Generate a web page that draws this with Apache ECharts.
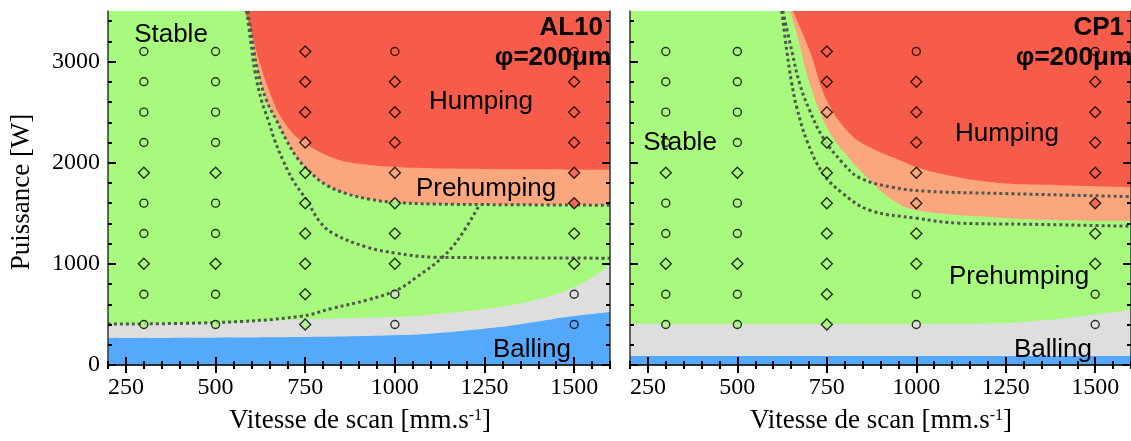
<!DOCTYPE html>
<html><head><meta charset="utf-8">
<script src="https://cdn.jsdelivr.net/npm/echarts@6/dist/echarts.min.js"></script>
<style>html,body{margin:0;padding:0;background:#fff}#c{width:1131px;height:441px}</style>
</head><body><div id="c"></div>
<script>
// ---------- data ----------
const speeds = [300, 500, 750, 1000, 1500];
const powers = [400, 700, 1000, 1300, 1600, 1900, 2200, 2500, 2800, 3100];
const xTickLabels = [250, 500, 750, 1000, 1250, 1500];
const yTickLabels = [0, 1000, 2000, 3000];
// marker shape per speed, from 400 W upward (o = circle, d = diamond)
const al10Shapes = ['oodoodoooo', 'oodoodoooo', 'dddddddddd', 'oodddddddo', 'oodddddddo'];
const cp1Shapes  = ['oodoodoooo', 'oodoodoooo', 'dddddddddd', 'oodddddddo', 'oodddddddo'];
// marker class per speed (S stable, P prehumping, H humping, G grey zone, B balling)
const al10Classes = ['SSSSSSSSSS', 'SSSSSSSSSS', 'SSSSSSPHHH', 'GGSSSPHHHH', 'BGSSHHHHHH'];
const cp1Classes  = ['SSSSSSSSSS', 'SSSSSSSSSS', 'SSSSSSSPHH', 'GSSSPPHHHH', 'GSSSHHHHHH'];

// AL10 region boundaries [speed, power]
const al10Humping = [[581,3500],[600,3300],[622,3000],[660,2616],[688,2419],[726,2254],[782,2122],[847,2024],[912,1984],[958,1968],[1100,1945],[1300,1935],[1600,1930]];
const al10Prehump = [[590,3500],[603,3200],[618,2900],[642,2616],[670,2419],[698,2221],[726,2056],[763,1908],[810,1777],[865,1695],[930,1639],[995,1609],[1107,1592],[1300,1585],[1600,1580]];
const al10CurveB  = [[587,3500],[598,3200],[610,2900],[628,2616],[647,2419],[665,2221],[688,2024],[716,1826],[754,1629],[790,1420],[827,1303],[922,1165],[1005,1105],[1107,1066],[1202,1062],[1600,1056]];
const al10CurveC  = [[200,405],[500,420],[735,480],[827,562],[922,642],[1005,740],[1061,870],[1133,1066],[1181,1264],[1237,1590]];
const al10Grey    = [[200,405],[500,415],[735,450],[1014,476],[1150,515],[1293,574],[1400,650],[1480,740],[1540,840],[1600,987]];
const al10Blue    = [[200,265],[735,276],[1014,296],[1150,325],[1293,375],[1400,430],[1480,474],[1600,523]];

// CP1 region boundaries
const cp1Humping = [[655,3500],[702,3109],[750,2616],[814,2290],[870,2152],[934,2053],[1029,1925],[1213,1807],[1400,1777],[1600,1757]];
const cp1Prehump = [[647,3500],[666,3277],[702,2784],[750,2350],[794,2122],[870,1826],[934,1629],[1001,1530],[1213,1461],[1400,1431],[1600,1425]];
const cp1Line1   = [[624,3500],[638,3109],[652,2784],[666,2547],[694,2221],[739,1895],[794,1698],[870,1530],[1001,1451],[1121,1402],[1308,1392],[1600,1372]];
const cp1Line2   = [[627,3500],[652,3109],[674,2784],[702,2517],[739,2250],[794,2000],[842,1850],[934,1757],[1029,1718],[1213,1698],[1600,1665]];
const cp1Grey    = [[200,405],[1000,405],[1230,412],[1350,440],[1475,490],[1600,545]];
const cp1Blue    = [[200,88],[1600,88]];

// ---------- styling ----------
const COL = {S:'#a8fa7e', P:'#fca67e', H:'#f75c4a', G:'#dedede', B:'#55a9fd'};
const xMinor = []; for (let v = 200; v <= 1600; v += 50) xMinor.push(v);
const yMinor = []; for (let v = 0; v <= 3500; v += 200) yMinor.push(v);
const serif = 'Liberation Serif';
const sans = 'Liberation Sans';
const plain = function(v){ return String(v); };

const grids = [
  {left:108, top:11, width:502, height:354, show:true, backgroundColor:COL.S, borderWidth:0},
  {left:630, top:11, width:502, height:354, show:true, backgroundColor:COL.S, borderWidth:0}
];

function xAxesFor(g){
  const base = {gridIndex:g, type:'value', min:200, max:1600, splitLine:{show:false}, z:10};
  const line = {show:true, lineStyle:{color:'#222', width:1.5}};
  const major = {show:true, inside:true, length:8, customValues:xTickLabels, lineStyle:{color:'#000', width:2}};
  const minor = {show:true, inside:true, length:4, customValues:xMinor, lineStyle:{color:'#000', width:2}};
  return [
    Object.assign({}, base, {position:'bottom', axisLine:line, axisTick:major,
      axisLabel:{show:true, customValues:xTickLabels, formatter:plain, margin:11, color:'#000', fontFamily:serif, fontSize:24}}),
    Object.assign({}, base, {position:'bottom', axisLine:{show:false}, axisTick:minor, axisLabel:{show:false}}),
    Object.assign({}, base, {position:'top', axisLine:line, axisTick:major, axisLabel:{show:false}}),
    Object.assign({}, base, {position:'top', axisLine:{show:false}, axisTick:minor, axisLabel:{show:false}})
  ];
}
function yAxesFor(g){
  const base = {gridIndex:g, type:'value', min:0, max:3500, splitLine:{show:false}, z:10};
  const line = {show:true, lineStyle:{color:'#333', width:1.5}};
  const major = {show:true, inside:true, length:8, customValues:yTickLabels, lineStyle:{color:'#000', width:2}};
  const minor = {show:true, inside:true, length:4, customValues:yMinor, lineStyle:{color:'#000', width:2}};
  return [
    Object.assign({}, base, {position:'left', axisLine:line, axisTick:major,
      axisLabel:{show:g === 0, customValues:yTickLabels, formatter:plain, margin:8, color:'#000', fontFamily:serif, fontSize:24}}),
    Object.assign({}, base, {position:'left', axisLine:{show:false}, axisTick:minor, axisLabel:{show:false}}),
    Object.assign({}, base, {position:'right', axisLine:line, axisTick:major, axisLabel:{show:false}}),
    Object.assign({}, base, {position:'right', axisLine:{show:false}, axisTick:minor, axisLabel:{show:false}})
  ];
}

function area(g, data, color, origin){
  return {type:'line', xAxisIndex:g*4, yAxisIndex:g*4, data:data, smooth:0.4,
    showSymbol:false, symbol:'none', lineStyle:{width:0, opacity:0}, areaStyle:{color:color, opacity:1, origin:origin},
    silent:true, z:2};
}
function dotted(g, data){
  return {type:'line', xAxisIndex:g*4, yAxisIndex:g*4, data:data, smooth:0.4,
    showSymbol:false, symbol:'none', lineStyle:{color:'#50574f', width:3, type:'dotted'}, silent:true, z:3};
}
function markers(g, shapes, classes){
  const data = [];
  speeds.forEach(function(v, i){
    powers.forEach(function(p, j){
      const circ = shapes[i][j] === 'o';
      data.push({value:[v, p], symbol: circ ? 'circle' : 'diamond', symbolSize: circ ? 8 : 11,
        itemStyle:{color: COL[classes[i][j]], borderColor:'#000', borderWidth:1.4}});
    });
  });
  return {type:'scatter', xAxisIndex:g*4, yAxisIndex:g*4, data:data, silent:true, z:4};
}

const series = [
  area(0, al10Prehump, COL.P, 'end'),
  area(0, al10Humping, COL.H, 'end'),
  area(0, al10Grey, COL.G, 'start'),
  area(0, al10Blue, COL.B, 'start'),
  dotted(0, al10Prehump), dotted(0, al10CurveB), dotted(0, al10CurveC),
  markers(0, al10Shapes, al10Classes),
  area(1, cp1Prehump, COL.P, 'end'),
  area(1, cp1Humping, COL.H, 'end'),
  area(1, cp1Grey, COL.G, 'start'),
  area(1, cp1Blue, COL.B, 'start'),
  dotted(1, cp1Line1), dotted(1, cp1Line2),
  markers(1, cp1Shapes, cp1Classes)
];

function txt(t, x, y, align, bold){
  return {type:'text', z:100, style:{text:t, x:x, y:y, fill:'#000', textAlign:align, textVerticalAlign:'middle',
    font:(bold ? 'bold ' : '') + '26px "' + sans + '"'}};
}
function xTitle(cx){
  return {type:'text', z:100, style:{text:'Vitesse de scan [mm.s{sup|-1}]', x:cx, y:421, fill:'#000',
    textAlign:'center', textVerticalAlign:'middle', font:'27px "' + serif + '"',
    rich:{sup:{fontSize:16, fontFamily:serif, verticalAlign:'top', fill:'#000'}}}};
}

const graphic = [
  txt('Stable', 171, 35, 'center'), txt('Humping', 481, 102, 'center'),
  txt('Prehumping', 486, 189, 'center'), txt('Balling', 532, 350, 'center'),
  txt('AL10', 603, 28, 'right', true), txt('φ=200μm', 611, 58, 'right', true),
  txt('Stable', 680, 143, 'center'), txt('Humping', 1007, 134, 'center'),
  txt('Prehumping', 1019, 277, 'center'), txt('Balling', 1053, 350, 'center'),
  txt('CP1', 1124, 28, 'right', true), txt('φ=200μm', 1132, 58, 'right', true),
  {type:'text', z:100, x:22, y:192, rotation:Math.PI/2,
    style:{text:'Puissance [W]', x:0, y:0, fill:'#000', textAlign:'center', textVerticalAlign:'middle', font:'27px "' + serif + '"'}},
  xTitle(360), xTitle(881)
];

const chart = echarts.init(document.getElementById('c'), null, {renderer:'canvas'});
chart.setOption({
  animation:false,
  grid:grids,
  xAxis:xAxesFor(0).concat(xAxesFor(1)),
  yAxis:yAxesFor(0).concat(yAxesFor(1)),
  series:series,
  graphic:graphic
});
</script></body></html>
